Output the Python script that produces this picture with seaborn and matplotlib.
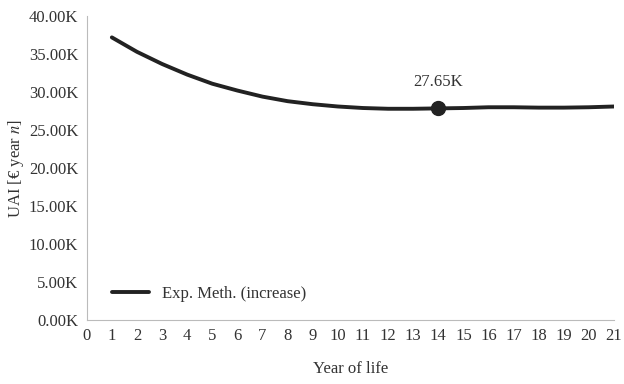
import numpy as np
import pandas as pd
import seaborn as sns
import matplotlib.pyplot as plt
from matplotlib.ticker import FuncFormatter

# data
years = [1, 2, 3, 4, 5, 6, 7, 8, 9, 10, 11, 12, 13, 14, 15, 16, 17, 18, 19, 20, 21]
uai = [37.2, 35.3, 33.7, 32.3, 31.1, 30.2, 29.4, 28.8, 28.4, 28.1, 27.9, 27.8,
       27.8, 27.85, 27.9, 28.0, 28.0, 27.95, 27.95, 28.0, 28.1]
mark_year = 14
mark_value = 27.85
mark_label = "27.65K"

df = pd.DataFrame({"year": years, "uai": uai})

sns.set_theme(style="white")
plt.rcParams['font.family'] = ['Liberation Serif', 'DejaVu Serif']
plt.rcParams['mathtext.fontset'] = 'stix'

fig = plt.figure(figsize=(6.24, 3.84), dpi=100)
ax = fig.add_axes([0.139, 0.167, 0.845, 0.791])

sns.lineplot(data=df, x="year", y="uai", ax=ax, color="#222222", linewidth=2.8,
             label="Exp. Meth. (increase)")
ax.plot([mark_year], [mark_value], "o", color="#222222", markersize=10)
ax.annotate(mark_label, (mark_year, mark_value), xytext=(0, 13), textcoords="offset points",
            ha="center", va="bottom", fontsize=12, color="#333333")

ax.set_xlim(0, 21)
ax.set_ylim(0, 40)
ax.set_xticks(range(0, 22))
ax.set_yticks(np.arange(0, 41, 5))
ax.yaxis.set_major_formatter(FuncFormatter(lambda v, p: f"{v:.2f}K"))
ax.tick_params(axis="both", length=0, labelsize=12, labelcolor="#333333", pad=6)

for s in ["top", "right"]:
    ax.spines[s].set_visible(False)
for s in ["left", "bottom"]:
    ax.spines[s].set_color("#bbbbbb")
    ax.spines[s].set_linewidth(0.8)

ax.set_xlabel("Year of life", fontsize=12, color="#333333", labelpad=12)
ax.set_ylabel("UAI [€ year $n$]", fontsize=12, color="#333333", labelpad=2)

ax.legend(loc="lower left", frameon=False, fontsize=12, handlelength=2.2,
          bbox_to_anchor=(0.02, 0.01), labelcolor="#333333")

fig.savefig("out.png", dpi=100)
